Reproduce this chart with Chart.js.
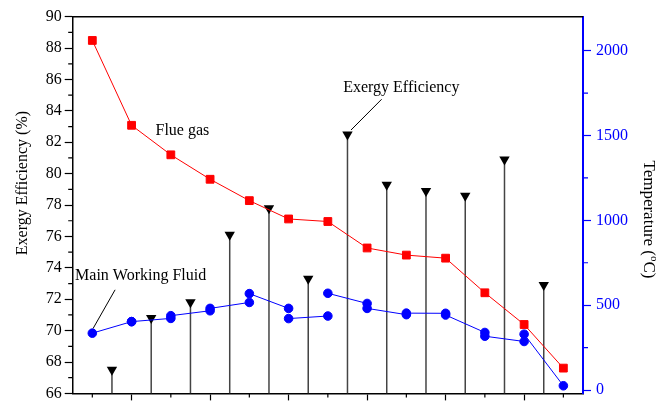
<!DOCTYPE html>
<html>
<head>
<meta charset="utf-8">
<script src="https://cdn.jsdelivr.net/npm/chart.js@4"></script>
<style>
  html, body { margin: 0; padding: 0; background: #fff; }
</style>
</head>
<body>
<canvas id="myChart" width="666" height="408"></canvas>
<script>
// stations along the flue gas path, components sit between two stations
var stations = [0, 1, 2, 3, 4, 5, 6, 7, 8, 9, 10, 11, 12];
// flue gas temperature at each station (degC)
var flueGasTemp = [2060, 1560, 1386, 1242, 1116, 1008, 993, 837, 795, 777, 573, 386, 129];
// main working fluid temperature per component: at station i and at station i+1 (degC)
var fluidTempA = [335, 403, 438, 481, 568, 421, 570, 481, 453, 442, 317, 329];
var fluidTempB = [403, 422, 467, 516, 481, 436, 510, 444, 452, 339, 286, 25];
// exergy efficiency of each component (%)
var exergyEff = [67.5, 70.8, 71.8, 76.1, 77.8, 73.3, 82.5, 79.3, 78.9, 78.6, 80.9, 72.9];

var effTicks = [66, 68, 70, 72, 74, 76, 78, 80, 82, 84, 86, 88, 90];
var tempTicks = [0, 500, 1000, 1500, 2000];

var SERIF = '"Liberation Serif", "Times New Roman", serif';
Chart.defaults.font.family = SERIF;
Chart.defaults.font.size = 16;
Chart.defaults.color = '#000';

var flueData = flueGasTemp.map(function (t, i) { return {x: stations[i], y: t}; });

var fluidData = [];
fluidTempA.forEach(function (t, i) {
    fluidData.push({x: stations[i], y: t}, {x: stations[i + 1], y: fluidTempB[i]}, {x: stations[i + 1], y: null});
});

var stemData = [];
var stemTops = [];
exergyEff.forEach(function (v, i) {
    var x = (stations[i] + stations[i + 1]) / 2;
    stemData.push({x: x, y: effTicks[0]}, {x: x, y: v}, {x: x, y: null});
    stemTops.push({x: x, y: v});
});

// minor ticks, top of frame, axis titles and the in-plot labels
var extras = {
    id: 'extras',
    afterDraw: function (chart) {
        var ctx = chart.ctx, a = chart.chartArea, s = chart.scales;
        ctx.save();
        ctx.lineWidth = 1.5;
        ctx.strokeStyle = '#000';
        ctx.beginPath();
        ctx.moveTo(a.left - 0.75, a.top);
        ctx.lineTo(a.right, a.top);
        ctx.stroke();

        ctx.lineWidth = 1.2;
        ctx.beginPath();
        for (var v = 67; v < 90; v += 2) {
            var py = s.eff.getPixelForValue(v);
            ctx.moveTo(a.left, py); ctx.lineTo(a.left - 4.5, py);
        }
        for (var k = 0; k < stations.length; k += 2) {
            var px = s.x.getPixelForValue(stations[k]);
            ctx.moveTo(px, a.bottom); ctx.lineTo(px, a.bottom + 4);
        }
        ctx.stroke();

        ctx.strokeStyle = '#0000ff';
        ctx.beginPath();
        [250, 750, 1250, 1750].forEach(function (t) {
            var py = s.temp.getPixelForValue(t);
            ctx.moveTo(a.right, py); ctx.lineTo(a.right + 5, py);
        });
        ctx.stroke();

        // axis titles
        ctx.fillStyle = '#000';
        ctx.textAlign = 'center';
        ctx.textBaseline = 'middle';
        ctx.font = '16px ' + SERIF;
        ctx.save();
        ctx.translate(23, s.eff.getPixelForValue(79.4));
        ctx.rotate(-Math.PI / 2);
        ctx.fillText('Exergy Efficiency (%)', 0, 0);
        ctx.restore();

        ctx.save();
        ctx.translate(648, s.temp.getPixelForValue(1005));
        ctx.rotate(Math.PI / 2);
        ctx.font = '17px ' + SERIF;
        var p1 = 'Temperature (', p3 = 'C)';
        var w1 = ctx.measureText(p1).width, w3 = ctx.measureText(p3).width;
        ctx.font = '11px ' + SERIF;
        var w2 = ctx.measureText('o').width;
        var x0 = -(w1 + w2 + w3) / 2;
        ctx.textAlign = 'left';
        ctx.font = '17px ' + SERIF;
        ctx.fillText(p1, x0, 0);
        ctx.fillText(p3, x0 + w1 + w2, 0);
        ctx.font = '11px ' + SERIF;
        ctx.fillText('o', x0 + w1, -6);
        ctx.restore();

        // labels with leader lines
        ctx.strokeStyle = '#000';
        ctx.lineWidth = 1;
        ctx.textAlign = 'left';
        ctx.font = '16px ' + SERIF;
        ctx.fillText('Flue gas', s.x.getPixelForValue(1.61), s.temp.getPixelForValue(1530));
        ctx.fillText('Exergy Efficiency', s.x.getPixelForValue(6.39), s.eff.getPixelForValue(85.5));
        ctx.fillText('Main Working Fluid', s.x.getPixelForValue(-0.44), s.eff.getPixelForValue(73.5));
        ctx.beginPath();
        ctx.moveTo(s.x.getPixelForValue(7.37), s.eff.getPixelForValue(84.74));
        ctx.lineTo(s.x.getPixelForValue(6.59), s.eff.getPixelForValue(82.78));
        ctx.moveTo(s.x.getPixelForValue(0.58), s.eff.getPixelForValue(72.6));
        ctx.lineTo(s.x.getPixelForValue(0.02), s.eff.getPixelForValue(70.14));
        ctx.stroke();
        ctx.restore();
    }
};

var ctx = document.getElementById('myChart').getContext('2d');

var myChart = new Chart(ctx, {
    type: 'line',
    data: {
        datasets: [{
            label: 'Flue gas',
            data: flueData,
            yAxisID: 'temp',
            borderColor: '#ff0000',
            backgroundColor: '#ff0000',
            borderWidth: 1,
            pointStyle: 'rect',
            pointRadius: 5.5,
            order: 1
        }, {
            label: 'Main Working Fluid',
            data: fluidData,
            yAxisID: 'temp',
            borderColor: '#0000ff',
            backgroundColor: '#0000ff',
            borderWidth: 1,
            pointStyle: 'circle',
            pointRadius: 4.3,
            spanGaps: false,
            order: 0
        }, {
            label: 'stems',
            data: stemData,
            yAxisID: 'eff',
            borderColor: '#444',
            borderWidth: 1.5,
            pointRadius: 0,
            spanGaps: false,
            order: 3
        }, {
            label: 'Exergy Efficiency',
            data: stemTops,
            yAxisID: 'eff',
            showLine: false,
            pointStyle: 'triangle',
            rotation: 180,
            pointRadius: 6,
            backgroundColor: '#000',
            borderColor: '#000',
            borderWidth: 0,
            order: 2
        }]
    },
    options: {
        responsive: false,
        animation: false,
        devicePixelRatio: 1,
        layout: { padding: { top: 16.7, left: 0, right: 0, bottom: 0 } },
        plugins: {
            legend: { display: false },
            tooltip: { enabled: false }
        },
        scales: {
            x: {
                type: 'linear',
                min: -0.5,
                max: 12.5,
                afterBuildTicks: function (scale) {
                    scale.ticks = [1, 3, 5, 7, 9, 11].map(function (v) { return {value: v}; });
                },
                afterFit: function (scale) { scale.height = 11.3; },
                ticks: { autoSkip: false, callback: function () { return ''; } },
                grid: { drawOnChartArea: false, tickLength: 7, tickColor: '#000', tickWidth: 1.2 },
                border: { color: '#000', width: 1.5 }
            },
            eff: {
                type: 'linear',
                position: 'left',
                min: 66,
                max: 90,
                afterBuildTicks: function (scale) {
                    scale.ticks = effTicks.map(function (v) { return {value: v}; });
                },
                afterFit: function (scale) { scale.width = 72.7; },
                ticks: {
                    autoSkip: false, padding: 3, color: '#000',
                    font: { family: SERIF, size: 16 },
                    callback: function (v) { return String(v); }
                },
                grid: { drawOnChartArea: false, tickLength: 8, tickColor: '#000', tickWidth: 1.2 },
                border: { color: '#000', width: 1.5 }
            },
            temp: {
                type: 'linear',
                position: 'right',
                min: -20,
                max: 2200,
                afterBuildTicks: function (scale) {
                    scale.ticks = tempTicks.map(function (v) { return {value: v}; });
                },
                afterFit: function (scale) { scale.width = 83; },
                ticks: {
                    autoSkip: false, padding: 5, color: '#0000ff',
                    font: { family: SERIF, size: 16 },
                    callback: function (v) { return String(v); }
                },
                grid: { drawOnChartArea: false, tickLength: 8, tickColor: '#0000ff', tickWidth: 1.2 },
                border: { color: '#0000ff', width: 2 }
            }
        }
    },
    plugins: [extras]
});
</script>
</body>
</html>
